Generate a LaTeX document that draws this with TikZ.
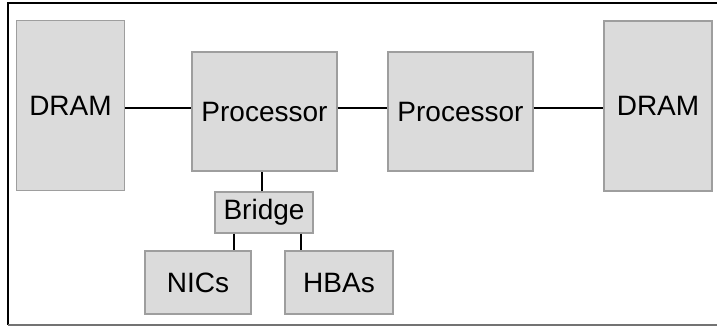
\documentclass[tikz,border=0pt]{standalone}
\usepackage{fontspec}
\setmainfont{Liberation Sans}
\begin{document}
\begin{tikzpicture}[x=0.75pt,y=-0.75pt,
  box/.style={draw=black!38,fill=black!14,line width=0.8pt,inner sep=0pt,
    font=\fontsize{21}{25}\selectfont},
  link/.style={line width=1.5pt,black}]
\useasboundingbox (0,0) rectangle (717,326);
% outer frame, running off the right edge
\draw[line width=1.5pt] (720,3) -- (8,3) -- (8,325);
\draw[line width=1.5pt,black!55] (8,325) -- (720,325);
% boxes (sizes in pixel units of 0.75pt)
\node[box,minimum width=108*0.75pt,minimum height=170*0.75pt] (dramL) at (70.5,105.5) {DRAM};
\node[box,minimum width=145*0.75pt,minimum height=119*0.75pt] (procL) at (264.5,111.5) {Processor};
\node[box,minimum width=145*0.75pt,minimum height=119*0.75pt] (procR) at (460.5,111.5) {Processor};
\node[box,minimum width=108*0.75pt,minimum height=170*0.75pt] (dramR) at (658,106) {DRAM};
\node[box,minimum width=98*0.75pt,minimum height=41*0.75pt] (bridge) at (264,212.5) {Bridge};
\node[box,minimum width=106*0.75pt,minimum height=63*0.75pt] (nics) at (198,282.5) {NICs};
\node[box,minimum width=108*0.75pt,minimum height=63*0.75pt] (hbas) at (339,282.5) {HBAs};
% interconnects
\coordinate (yl) at (0,108);
\draw[link] (dramL.east |- yl) -- (procL.west |- yl);
\draw[link] (procL.east |- yl) -- (procR.west |- yl);
\draw[link] (procR.east |- yl) -- (dramR.west |- yl);
\draw[link] (bridge.north -| 262,0) -- (procL.south -| 262,0);
\draw[link] (bridge.south -| 234,0) -- (nics.north -| 234,0);
\draw[link] (bridge.south -| 301,0) -- (hbas.north -| 301,0);
\end{tikzpicture}
\end{document}
